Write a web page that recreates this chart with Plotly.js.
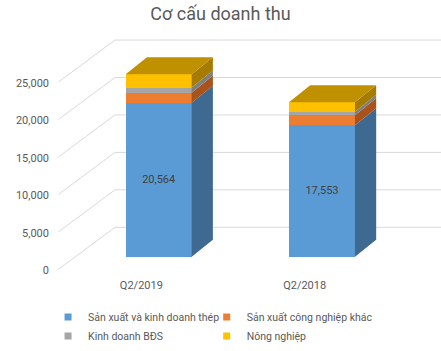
<!DOCTYPE html>
<html>
<head>
<meta charset="utf-8">
<script src="https://cdn.plot.ly/plotly-3.0.1.min.js"></script>
<style>html,body{margin:0;padding:0;background:#fff;}#chart{width:441px;height:351px;}</style>
</head>
<body>
<div id="chart"></div>
<script>
// ---- data ----
const categories = ['Q2/2019', 'Q2/2018'];
const seriesNames = ['Sản xuất và kinh doanh thép', 'Sản xuất công nghiệp khác', 'Kinh doanh BĐS', 'Nông nghiệp'];
const steel = [20564, 17553];
const otherIndustry = [1340, 1340];
const realEstate = [670, 450];
const agriculture = [1790, 1280];
const yTickVals = [0, 5000, 10000, 15000, 20000, 25000];

// ---- style ----
const frontColors = ['#5B9BD5', '#ED7D31', '#A5A5A5', '#FFC000'];
const sideColors = ['#3E6A91', '#A9521B', '#7F7F7F', '#A67C00'];
const topColor = '#BF9000';
const FONT = 'Roboto, "Noto Sans", sans-serif';
const barWidth = 0.404, depthX = 0.13, depthY = 2270;
const xRange = [-0.635, 1.729], yRange = [-2043, 30265];
const labelShiftY = -1680, labelTextShiftY = -150, labelShiftX = -0.106;
const wallStartX = -0.6136, wallX = -0.2676, wallShiftY = 3925;
const legendOf = ['legend', 'legend2', 'legend', 'legend2'];

const series = [steel, otherIndustry, realEstate, agriculture];
const xs = categories.map((c, i) => i);

const traces = [];
// front faces (real bars)
series.forEach((vals, k) => {
  const t = {
    type: 'bar', x: xs, y: vals, width: barWidth, name: seriesNames[k],
    marker: {color: frontColors[k], line: {width: 0}}, showlegend: false, hoverinfo: 'y'
  };
  if (k === 0) {
    t.text = vals.map(v => v.toLocaleString('en-US'));
    t.textposition = 'inside';
    t.insidetextanchor = 'middle';
    t.textfont = {color: '#404040', size: 11, family: FONT};
  }
  traces.push(t);
});
// side faces
const cum = xs.map(() => 0);
series.forEach((vals, k) => {
  const px = [], py = [];
  xs.forEach((x, i) => {
    const y0 = cum[i], y1 = cum[i] + vals[i];
    const xr = x + barWidth / 2;
    px.push(xr, xr, xr + depthX, xr + depthX, xr, null);
    py.push(y0, y1, y1 + depthY, y0 + depthY, y0, null);
    cum[i] = y1;
  });
  traces.push({type: 'scatter', mode: 'lines', x: px, y: py, fill: 'toself',
    fillcolor: sideColors[k], line: {width: 0, color: sideColors[k]}, showlegend: false, hoverinfo: 'skip'});
});
// top faces
{
  const px = [], py = [];
  xs.forEach((x, i) => {
    const T = cum[i], xl = x - barWidth / 2, xr = x + barWidth / 2;
    px.push(xl, xr, xr + depthX, xl + depthX, xl, null);
    py.push(T, T, T + depthY, T + depthY, T, null);
  });
  traces.push({type: 'scatter', mode: 'lines', x: px, y: py, fill: 'toself',
    fillcolor: topColor, line: {width: 0, color: topColor}, showlegend: false, hoverinfo: 'skip'});
}
// legend entries
seriesNames.forEach((n, k) => {
  traces.push({type: 'scatter', mode: 'markers', x: [null], y: [null], name: n,
    legend: legendOf[k], legendgroup: 'g' + k,
    marker: {symbol: 'square', size: 7, color: frontColors[k]}, hoverinfo: 'skip'});
});

// back wall gridlines (computed from tick values)
const shapes = yTickVals.map(t => ({
  type: 'path', xref: 'x', yref: 'y', layer: 'below',
  path: `M${wallStartX},${t + labelShiftY} L${wallX},${t + wallShiftY} L${xRange[1]},${t + wallShiftY}`,
  line: {color: '#D9D9D9', width: 1}
}));

const legendBase = {orientation: 'v', xanchor: 'left', y: -0.126, yanchor: 'top',
  font: {size: 10.5, color: '#595959', family: FONT}, tracegroupgap: 7,
  bgcolor: 'rgba(0,0,0,0)', borderwidth: 0, traceorder: 'normal'};

const layout = {
  width: 441, height: 351,
  margin: {l: 55, r: 0, t: 30, b: 79},
  paper_bgcolor: '#fff', plot_bgcolor: 'rgba(0,0,0,0)',
  font: {family: FONT, color: '#595959', size: 11},
  title: {text: 'Cơ cấu doanh thu', x: 0.5, xanchor: 'center', y: 0.96, yanchor: 'middle',
    yref: 'container', font: {size: 18, color: '#595959', family: FONT}},
  barmode: 'stack',
  xaxis: {range: xRange, showgrid: false, zeroline: false, showline: false, ticks: '',
    tickmode: 'array', tickvals: xs.map(x => x + labelShiftX), ticktext: categories,
    ticklabelstandoff: 5, tickfont: {size: 11, color: '#595959'}, fixedrange: true},
  yaxis: {range: yRange, showgrid: false, zeroline: false, showline: false, ticks: '',
    tickmode: 'array', tickvals: yTickVals.map(t => t + labelShiftY + labelTextShiftY),
    ticktext: yTickVals.map(t => t.toLocaleString('en-US')),
    ticklabelstandoff: 5, tickfont: {size: 11, color: '#595959'}, fixedrange: true},
  shapes: shapes,
  showlegend: true,
  legend: Object.assign({}, legendBase, {x: -0.018}),
  legend2: Object.assign({}, legendBase, {x: 0.393})
};

Plotly.newPlot('chart', traces, layout, {displayModeBar: false, staticPlot: true});
</script>
</body>
</html>
